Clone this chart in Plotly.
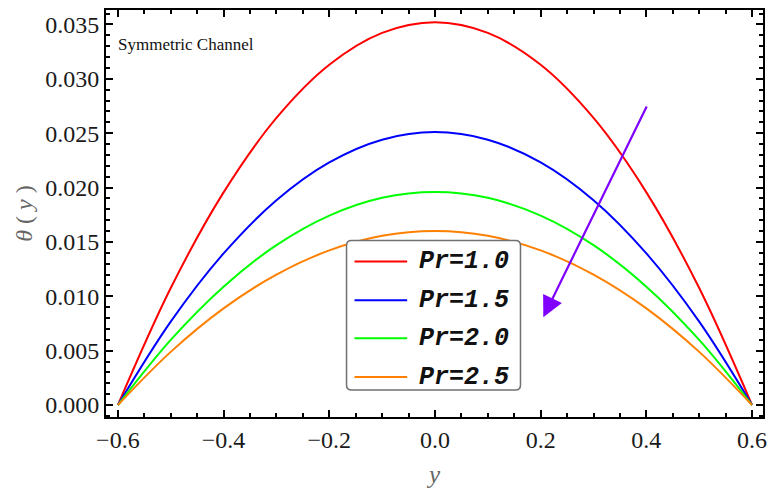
import plotly.graph_objects as go

# ---- data ----
y_vals = [-0.6, -0.5, -0.4, -0.3, -0.2, -0.1, 0.0, 0.1, 0.2, 0.3, 0.4, 0.5, 0.6]
theta_pr10 = [0.0, 0.01076, 0.01956, 0.0264, 0.03129, 0.03422, 0.0352, 0.03422, 0.03129, 0.0264, 0.01956, 0.01076, 0.0]
theta_pr15 = [0.0, 0.00767, 0.01394, 0.01883, 0.02231, 0.0244, 0.0251, 0.0244, 0.02231, 0.01883, 0.01394, 0.00767, 0.0]
theta_pr20 = [0.0, 0.00599, 0.01089, 0.0147, 0.01742, 0.01906, 0.0196, 0.01906, 0.01742, 0.0147, 0.01089, 0.00599, 0.0]
theta_pr25 = [0.0, 0.00489, 0.00889, 0.012, 0.01422, 0.01556, 0.016, 0.01556, 0.01422, 0.012, 0.00889, 0.00489, 0.0]
series_names = ["Pr=1.0", "Pr=1.5", "Pr=2.0", "Pr=2.5"]
series_colors = ["#ff0000", "#0000ff", "#00ff00", "#ff8000"]
x_ticks = [-0.6, -0.4, -0.2, 0.0, 0.2, 0.4, 0.6]
y_ticks = [0.0, 0.005, 0.01, 0.015, 0.02, 0.025, 0.03, 0.035]
arrow_tail = (0.402, 0.0276)
arrow_tip = (0.205, 0.00807)

series = [theta_pr10, theta_pr15, theta_pr20, theta_pr25]

# plot area in pixels
L, R, T, B = 106, 767, 10, 418
W, H = 774, 491
PW, PH = R - L, B - T


def px(x):
    return (x - L) / PW


def py(y):
    return (B - y) / PH


fig = go.Figure()
for name, col, vals in zip(series_names, series_colors, series):
    fig.add_trace(go.Scatter(x=y_vals, y=vals, mode="lines", name=name,
                             line=dict(color=col, width=2, shape="spline"),
                             showlegend=False))

tickfont = dict(family="Liberation Serif", size=24, color="#1a1a1a")
fig.update_layout(
    width=W, height=H,
    margin=dict(l=L, r=W - R, t=T, b=H - B),
    paper_bgcolor="white", plot_bgcolor="white",
    xaxis=dict(range=[-0.6225, 0.6207], tickvals=x_ticks,
               ticktext=[("\u2212" if v < 0 else "") + f"{abs(v):.1f}" for v in x_ticks],
               ticks="inside", ticklen=7, tickwidth=2, tickcolor="black",
               showline=True, linewidth=2, linecolor="black", mirror="ticks",
               showgrid=False, zeroline=False, tickfont=tickfont,
               minor=dict(dtick=0.05, tick0=0, ticks="inside", ticklen=4,
                          tickwidth=1.5, tickcolor="black", showgrid=False),
               title=dict(text="<i>y</i>", font=dict(family="Liberation Serif", size=25, color="#666666"),
                          standoff=14)),
    yaxis=dict(range=[-0.0011, 0.03633], tickvals=y_ticks,
               ticktext=[f"{v:.3f}" for v in y_ticks],
               ticks="inside", ticklen=7, tickwidth=2, tickcolor="black",
               showline=True, linewidth=2, linecolor="black", mirror="ticks",
               showgrid=False, zeroline=False, tickfont=tickfont,
               minor=dict(dtick=0.001, tick0=0, ticks="inside", ticklen=4,
                          tickwidth=1.5, tickcolor="black", showgrid=False),
               title=dict(text="<i>\u03b8</i> ( <i>y</i> )", font=dict(family="Liberation Serif", size=24, color="#666666"),
                          standoff=6)),
)

# label
fig.add_annotation(x=px(116), y=py(45), xref="paper", yref="paper", text="Symmetric Channel",
                   showarrow=False, xanchor="left", yanchor="middle",
                   font=dict(family="Liberation Serif", size=17, color="#111111"))

# arrow
fig.add_annotation(x=arrow_tip[0], y=arrow_tip[1], ax=arrow_tail[0], ay=arrow_tail[1],
                   xref="x", yref="y", axref="x", ayref="y", text="", showarrow=True,
                   arrowhead=2, arrowsize=1.9, arrowwidth=2.2, arrowcolor="#8000ff")

# custom legend
bx0, bx1, by0, by1 = 348, 523, 241, 391
r = 5
rx, ry = r / PW, r / PH
X0, X1, Y0, Y1 = px(bx0), px(bx1), py(by1), py(by0)
path = (f"M {X0+rx},{Y0} L {X1-rx},{Y0} Q {X1},{Y0} {X1},{Y0+ry} L {X1},{Y1-ry} "
        f"Q {X1},{Y1} {X1-rx},{Y1} L {X0+rx},{Y1} Q {X0},{Y1} {X0},{Y1-ry} "
        f"L {X0},{Y0+ry} Q {X0},{Y0} {X0+rx},{Y0} Z")
fig.add_shape(type="path", path=path, xref="paper", yref="paper",
              line=dict(color="#707070", width=1.5), fillcolor="white", layer="above")
rows = [262, 301, 339, 378]
for name, col, ry_ in zip(series_names, series_colors, rows):
    fig.add_shape(type="line", x0=px(356), x1=px(409), y0=py(ry_), y1=py(ry_),
                  xref="paper", yref="paper", line=dict(color=col, width=2), layer="above")
    fig.add_annotation(x=px(419), y=py(ry_), xref="paper", yref="paper",
                       text=f"<b><i>{name}</i></b>", showarrow=False, xanchor="left", yanchor="middle",
                       font=dict(family="Liberation Mono", size=25, color="#111111"))

fig.write_html("out.html")
